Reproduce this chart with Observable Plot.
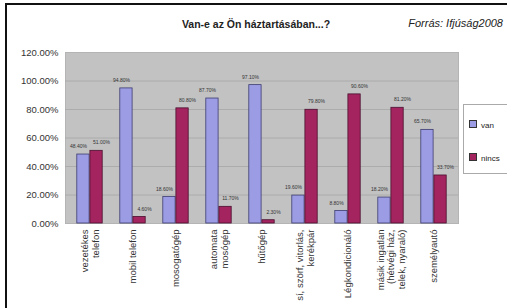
<!DOCTYPE html>
<html><head><meta charset="utf-8">
<script src="https://cdn.jsdelivr.net/npm/d3@7"></script>
<script src="https://cdn.jsdelivr.net/npm/@observablehq/plot@0.6"></script>
<style>
body{margin:0;background:#fff;}
#wrap{position:relative;width:507px;height:308px;overflow:hidden;font-family:"Liberation Sans",Arial,sans-serif;color:#222;}
#frame{position:absolute;left:5px;top:3px;width:520px;height:320px;border-left:2px solid #111;border-top:2px solid #111;box-sizing:border-box;}
#title{position:absolute;left:0;width:512px;top:18px;text-align:center;font-weight:bold;font-size:10.5px;color:#222;}
#src{position:absolute;right:4px;top:17px;font-family:"Liberation Sans Narrow","Liberation Sans",sans-serif;font-style:italic;font-size:11px;color:#222;}
#chart{position:absolute;left:0;top:0;}
#legend{position:absolute;left:463px;top:104px;width:60px;height:70px;background:#fff;border:1px solid #aaa;box-sizing:border-box;font-size:8px;}
.item{position:absolute;left:5px;height:10px;line-height:10px;white-space:nowrap;}
.sw{display:inline-block;width:6px;height:6px;border:0.8px solid #333;margin-right:4px;vertical-align:-0.5px;}
</style>
</head><body>
<div id="wrap">
  <div id="frame"></div>
  <div id="chart"></div>
  <div id="title">Van-e az Ön háztartásában...?</div>
  <div id="src">Forrás: Ifjúság2008</div>
  <div id="legend"></div>
</div>
<script>
const categories = [
  "vezetékes\ntelefon",
  "mobil telefon",
  "mosogatógép",
  "automata\nmosógép",
  "hűtőgép",
  "sí, szörf, vitorlás,\nkerékpár",
  "Légkondicionáló",
  "másik ingatlan\n(hétvégi ház,\ntelek, nyaraló)",
  "személyautó"
];
const van   = [48.4, 94.8, 18.6, 87.7, 97.1, 19.6, 8.8, 18.2, 65.7];
const nincs = [51.0, 4.6, 80.8, 11.7, 2.3, 79.8, 90.6, 81.2, 33.7];
const seriesNames = ["van", "nincs"];
const seriesColors = ["#9c9ce4", "#a3245e"];
const yTicks = [0, 20, 40, 60, 80, 100, 120];

const data = categories.map((c, i) => ({cat: c, van: van[i], nincs: nincs[i]}));
const fmt = v => v.toFixed(2) + "%";

const plot = Plot.plot({
  width: 507,
  height: 308,
  marginLeft: 65,
  marginRight: 49,
  marginTop: 52,
  marginBottom: 85,
  style: {background: "transparent", fontFamily: "'Liberation Sans', Arial, sans-serif"},
  x: {domain: categories, padding: 0, axis: null},
  y: {domain: [0, 120], axis: null},
  marks: [
    Plot.frame({fill: "#c2c2c2", stroke: "#b4b4b4"}),
    Plot.ruleY(yTicks.slice(1, -1), {stroke: "#a6a6a6", strokeWidth: 0.8}),
    Plot.axisY({ticks: yTicks, tickSize: 0, tickPadding: 7, tickFormat: fmt, fontSize: 9.5, fill: "#333"}),
    Plot.barY(data, {x: "cat", y: "van", fill: seriesColors[0], stroke: "#3c3c70", strokeWidth: 0.8, insetLeft: 8.8, insetRight: 21.9}),
    Plot.barY(data, {x: "cat", y: "nincs", fill: seriesColors[1], stroke: "#4a1030", strokeWidth: 0.8, insetLeft: 21.9, insetRight: 8.8}),
    Plot.text(data, {x: "cat", y: "van", text: d => fmt(d.van), dx: -11.5, dy: -8, fontSize: 5, fill: "#333"}),
    Plot.text(data, {x: "cat", y: "nincs", text: d => fmt(d.nincs), dx: 11.5, dy: -8, fontSize: 5, fill: "#333"}),
    Plot.text(categories, {x: d => d, frameAnchor: "bottom", dy: 6, rotate: -90, textAnchor: "end", lineAnchor: "middle", fontSize: 9.5, fill: "#333", lineHeight: 1.1})
  ]
});
document.getElementById("chart").appendChild(plot);

const legend = document.getElementById("legend");
const legendTops = [15, 48];
seriesNames.forEach((name, i) => {
  const it = document.createElement("div");
  it.className = "item";
  it.style.top = legendTops[i] + "px";
  it.innerHTML = `<span class="sw" style="background:${seriesColors[i]}"></span>${name}`;
  legend.appendChild(it);
});
</script>
</body></html>
